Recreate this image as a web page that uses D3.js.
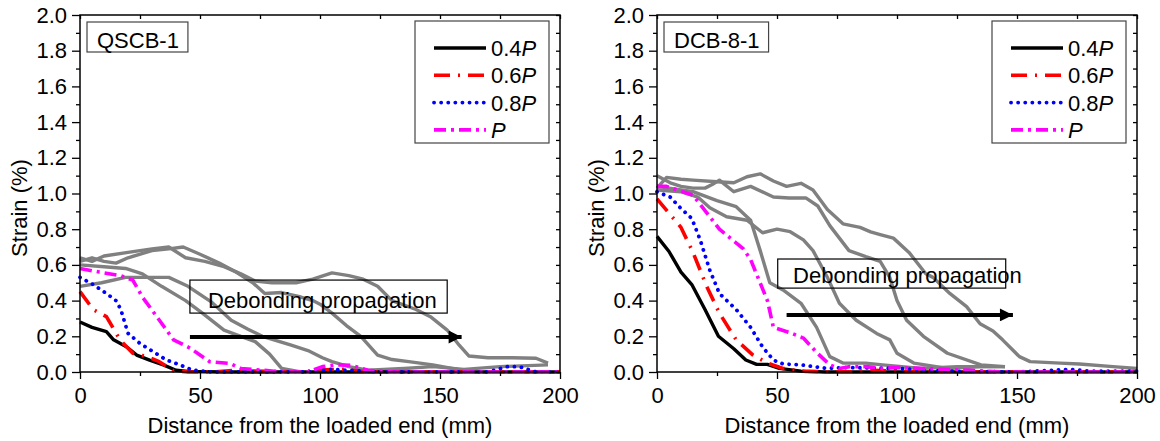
<!DOCTYPE html>
<html>
<head>
<meta charset="utf-8">
<script src="https://cdn.jsdelivr.net/npm/d3@7"></script>
<style>
  body { margin: 0; background: #fff; }
  text { font-family: Arial, "Liberation Sans", sans-serif; font-size: 22px; fill: #000; }
</style>
</head>
<body>
<script>
// tick values
const distTicks = [0, 50, 100, 150, 200]
const distMinor = [25, 75, 125, 175]
const strainTicks = [0, 0.2, 0.4, 0.6, 0.8, 1.0, 1.2, 1.4, 1.6, 1.8, 2.0]
const strainMinor = [0.1, 0.3, 0.5, 0.7, 0.9, 1.1, 1.3, 1.5, 1.7, 1.9]
const loadLabels = ['0.4', '0.6', '0.8', '']

// QSCB-1, [distance mm, strain %]
const qscb04 = [[0,0.28],[5,0.25],[11,0.226],[14,0.18],[19.5,0.14],[23.6,0.095],[29,0.067],[34.7,0.04],[40,0.01],[45,0.003],[60,0],[120,0],[200,0]]
const qscb06 = [[0,0.45],[5.5,0.35],[11,0.31],[16.7,0.18],[22,0.105],[28,0.086],[33,0.058],[39,0.007],[45,0],[55,0],[65,0.01],[72,0.005],[90,0],[102,0.012],[110,0.015],[120,0],[200,0]]
const qscb08 = [[0,0.53],[5.5,0.49],[11,0.44],[15,0.40],[17,0.35],[20,0.217],[25,0.16],[30.5,0.114],[36,0.067],[41.7,0.04],[47,0.01],[55,0],[95,0],[104,0.015],[112,0.01],[125,0],[170,0],[178,0.03],[183,0.03],[190,0],[200,0]]
const qscbP = [[0,0.58],[8,0.56],[16.7,0.54],[22,0.515],[26,0.42],[32,0.31],[39,0.18],[46,0.133],[50,0.095],[54,0.058],[62.5,0.048],[67,0.02],[78,0.008],[84,0],[95,0],[101,0.03],[107,0.04],[113,0.038],[120,0.01],[130,0],[200,0]]
const qscbGray1 = [[0,0.64],[5,0.62],[10,0.65],[20,0.67],[30,0.69],[37,0.70],[44,0.64],[52,0.62],[60,0.59],[67,0.55],[73,0.51],[80,0.50],[90,0.50],[97,0.52],[105,0.555],[112,0.54],[118,0.52],[124,0.48],[130,0.40],[140,0.35],[146,0.31],[153,0.235],[158,0.15],[162,0.09],[170,0.08],[180,0.08],[190,0.077],[195,0.05]]
const qscbGray2 = [[0,0.62],[5,0.64],[10,0.62],[15,0.61],[20,0.64],[30,0.68],[37,0.69],[43,0.70],[50,0.66],[58,0.61],[65,0.56],[72,0.50],[77,0.44],[84,0.445],[92,0.42],[97,0.40],[100,0.38],[105,0.33],[111,0.26],[117,0.20],[124,0.095],[130,0.07],[137,0.058],[147,0.04],[155,0.02],[161,0.005]]
const qscbGray3 = [[0,0.60],[10,0.59],[19,0.58],[26,0.55],[34,0.48],[44,0.40],[51,0.33],[60,0.235],[67,0.20],[73,0.17],[79,0.10],[84,0.02],[92,0]]
const qscbGray4 = [[0,0.48],[9,0.50],[19,0.53],[28,0.53],[37,0.53],[45,0.48],[55,0.39],[63,0.29],[70,0.24],[76,0.20],[88,0.15],[95,0.12],[101,0.08],[105,0.058],[112,0.03],[120,0.01],[135,0.02],[147,0.03],[160,0.015],[175,0.03],[195,0.04]]

// DCB-8-1
const dcb04 = [[0,0.76],[5,0.675],[10,0.56],[14.5,0.49],[20,0.35],[25.6,0.20],[32,0.13],[37,0.067],[41.5,0.043],[46,0.043],[51,0.02],[60,0.005],[70,0],[200,0]]
const dcb06 = [[0,0.97],[5,0.89],[10,0.81],[15,0.67],[20.7,0.48],[26,0.33],[33,0.18],[40,0.095],[46,0.05],[52.5,0.02],[62,0.003],[80,0],[90,0.01],[100,0.005],[120,0],[200,0]]
const dcb08 = [[0,1.01],[5.5,0.98],[9.7,0.92],[14.5,0.86],[18,0.74],[22,0.57],[26,0.44],[33,0.35],[39,0.25],[44,0.14],[48.5,0.067],[52.5,0.045],[60,0.04],[71,0.02],[80,0.025],[100,0.02],[120,0.005],[150,0],[165,0.01],[172,0.015],[180,0.005],[200,0.005]]
const dcbP = [[0,1.04],[4,1.04],[15,0.99],[22,0.87],[26,0.80],[36,0.69],[39,0.63],[46,0.40],[48.5,0.25],[55.5,0.22],[61,0.19],[66.5,0.11],[72,0.04],[76,0.02],[80,0.03],[87,0.03],[94,0.02],[100,0.025],[120,0.015],[145,0],[200,0]]
const dcbGray1 = [[0,1.03],[4,1.09],[10,1.08],[15,1.075],[25,1.066],[32,1.06],[37.5,1.094],[43,1.11],[48.5,1.07],[54,1.04],[60,1.057],[65,1.02],[71,0.91],[77.5,0.83],[84.6,0.81],[89,0.785],[93,0.77],[98.5,0.75],[105,0.67],[112,0.55],[115,0.53],[122,0.44],[129,0.366],[134.6,0.27],[140,0.23],[144,0.18],[151,0.086],[155.5,0.058],[168,0.05],[176,0.045],[190,0.03],[200,0.02]]
const dcbGray2 = [[0,1.10],[5.5,1.06],[10,1.04],[15,1.03],[20,1.03],[23,1.05],[26,1.075],[32,1.01],[39,1.04],[48.5,0.98],[55,0.975],[62,0.975],[67,0.93],[72,0.82],[76,0.75],[80,0.68],[87,0.646],[93,0.62],[97,0.53],[100,0.40],[104,0.29],[111,0.20],[121,0.105],[135,0.04],[145,0.03]]
const dcbGray3 = [[0,1.04],[5,1.03],[15,1.01],[25,0.96],[33,0.926],[39,0.85],[43,0.68],[47,0.50],[52.5,0.46],[60,0.385],[66.5,0.25],[72,0.086],[77.5,0.05],[87,0.05],[94,0.04],[110,0.02],[125,0.03],[145,0.03]]
const dcbGray4 = [[0,1.02],[10,1.01],[17,0.98],[22,0.92],[29,0.87],[37.5,0.85],[44,0.78],[50,0.80],[55.5,0.786],[61,0.74],[65,0.68],[71,0.53],[76,0.385],[83,0.29],[91.5,0.216],[97,0.18],[100,0.105],[107,0.05],[121,0.02],[135,0.03],[145,0.03]]

const styles = [
  { color: '#000000', dash: null, width: 3.4, cap: 'butt' },
  { color: '#ff0000', dash: '16,8,2,8', width: 3.6, cap: 'butt' },
  { color: '#0000ff', dash: '0.1,7', width: 3.8, cap: 'round' },
  { color: '#ff00ff', dash: '12,5,3,5', width: 3.6, cap: 'butt' }
]

const panels = [
  {
    name: 'QSCB-1', left: 80, right: 560,
    series: [qscb04, qscb06, qscb08, qscbP],
    gray: [qscbGray4, qscbGray3, qscbGray2, qscbGray1],
    note: { x0: 45.8, x1: 153, y0: 0.33, y1: 0.515, tx: 53.3, ty: 0.36 },
    arrow: { x0: 45.8, x1: 159, y: 0.196 }
  },
  {
    name: 'DCB-8-1', left: 657, right: 1137,
    series: [dcb04, dcb06, dcb08, dcbP],
    gray: [dcbGray4, dcbGray3, dcbGray2, dcbGray1],
    note: { x0: 50.3, x1: 145.3, y0: 0.47, y1: 0.633, tx: 56.7, ty: 0.5 },
    arrow: { x0: 54, x1: 148.3, y: 0.32 }
  }
]

const plotTop = 15
const plotBottom = 372

const svg = d3.select('body').append('svg')
  .attr('width', 1160)
  .attr('height', 441)

svg.append('defs').append('marker')
  .attr('id', 'head')
  .attr('viewBox', '0 0 10 10')
  .attr('refX', 10)
  .attr('refY', 5)
  .attr('markerUnits', 'userSpaceOnUse')
  .attr('markerWidth', 18)
  .attr('markerHeight', 13)
  .attr('orient', 'auto')
  .append('path')
  .attr('d', 'M0,0 L10,5 L0,10 Z')
  .attr('fill', '#000')

panels.forEach(p => {
  const x = d3.scaleLinear().domain([0, 200]).range([p.left, p.right])
  const y = d3.scaleLinear().domain([0, 2]).range([plotBottom, plotTop])
  const g = svg.append('g')

  const line = d3.line().x(d => x(d[0])).y(d => y(d[1]))

  // gray curves
  g.selectAll('path.gray')
    .data(p.gray)
    .enter().append('path')
    .attr('class', 'gray')
    .attr('d', line)
    .attr('fill', 'none')
    .attr('stroke', '#808080')
    .attr('stroke-width', 3.4)
    .attr('stroke-linejoin', 'round')

  g.selectAll('path.load')
    .data(p.series)
    .enter().append('path')
    .attr('class', 'load')
    .attr('d', line)
    .attr('fill', 'none')
    .attr('stroke', (d, i) => styles[i].color)
    .attr('stroke-width', (d, i) => styles[i].width)
    .attr('stroke-dasharray', (d, i) => styles[i].dash)
    .attr('stroke-linecap', (d, i) => styles[i].cap)
    .attr('stroke-linejoin', 'round')

  // axes
  g.append('g').attr('transform', 'translate(' + p.left + ',0)')
    .call(d3.axisLeft(y).tickValues(strainTicks).tickFormat(d3.format('.1f')).tickSizeInner(8).tickSizeOuter(0).tickPadding(5))
  g.append('g').attr('transform', 'translate(' + p.left + ',0)')
    .call(d3.axisLeft(y).tickValues(strainMinor).tickFormat('').tickSizeInner(4).tickSizeOuter(0))
  g.append('g').attr('transform', 'translate(0,' + plotBottom + ')')
    .call(d3.axisBottom(x).tickValues(distTicks).tickSizeInner(7).tickSizeOuter(0).tickPadding(8))
  g.append('g').attr('transform', 'translate(0,' + plotBottom + ')')
    .call(d3.axisBottom(x).tickValues(distMinor).tickFormat('').tickSizeInner(4).tickSizeOuter(0))
  g.append('g').attr('transform', 'translate(0,' + plotTop + ')')
    .call(d3.axisTop(x).tickValues(distTicks.concat(distMinor)).tickFormat('').tickSizeInner(-4).tickSizeOuter(0))
  g.append('g').attr('transform', 'translate(' + p.right + ',0)')
    .call(d3.axisRight(y).tickValues(strainTicks.concat(strainMinor)).tickFormat('').tickSizeInner(-4).tickSizeOuter(0))

  g.selectAll('.domain').remove()
  g.selectAll('.tick line').attr('stroke', '#000').attr('stroke-width', 1.3)
  g.selectAll('.tick text').attr('font-size', 22).attr('font-family', 'Arial, "Liberation Sans", sans-serif')

  g.append('rect')
    .attr('x', p.left).attr('y', plotTop)
    .attr('width', p.right - p.left).attr('height', plotBottom - plotTop)
    .attr('fill', 'none').attr('stroke', '#000').attr('stroke-width', 1.5)

  // axis titles
  g.append('text')
    .attr('transform', 'translate(' + (p.left - 53) + ',208) rotate(-90)')
    .attr('text-anchor', 'middle')
    .text('Strain (%)')
  g.append('text')
    .attr('x', (p.left + p.right) / 2).attr('y', 433)
    .attr('text-anchor', 'middle')
    .text('Distance from the loaded end (mm)')

  // specimen label
  const nameBox = g.append('rect')
    .attr('x', p.left + 7).attr('y', plotTop + 7)
    .attr('height', 30)
    .attr('fill', '#fff').attr('stroke', '#444').attr('stroke-width', 1.2)
  const nameText = g.append('text')
    .attr('x', p.left + 17).attr('y', plotTop + 33)
    .text(p.name)
  nameBox.attr('width', nameText.node().getComputedTextLength() + 19)

  // legend
  const lg = g.append('g').attr('transform', 'translate(' + (p.right - 145) + ',' + (plotTop + 6) + ')')
  lg.append('rect')
    .attr('width', 134).attr('height', 122)
    .attr('fill', '#fff').attr('stroke', '#444').attr('stroke-width', 1.2)
  const row = lg.selectAll('g.row')
    .data(loadLabels)
    .enter().append('g')
    .attr('class', 'row')
    .attr('transform', (d, i) => 'translate(0,' + (27 + i * 27.3) + ')')
  row.append('line')
    .attr('x1', 19).attr('x2', 71)
    .attr('stroke', (d, i) => styles[i].color)
    .attr('stroke-width', (d, i) => styles[i].width)
    .attr('stroke-dasharray', (d, i) => styles[i].dash)
    .attr('stroke-linecap', (d, i) => styles[i].cap)
  const lt = row.append('text').attr('x', 76).attr('y', 8)
  lt.append('tspan').text(d => d)
  lt.append('tspan').attr('font-style', 'italic').text('P')

  // annotation
  g.append('rect')
    .attr('x', x(p.note.x0)).attr('y', y(p.note.y1))
    .attr('width', x(p.note.x1) - x(p.note.x0)).attr('height', y(p.note.y0) - y(p.note.y1))
    .attr('fill', 'none').attr('stroke', '#000').attr('stroke-width', 1.2)
  g.append('text')
    .attr('x', x(p.note.tx)).attr('y', y(p.note.ty))
    .text('Debonding propagation')
  g.append('line')
    .attr('x1', x(p.arrow.x0)).attr('x2', x(p.arrow.x1))
    .attr('y1', y(p.arrow.y)).attr('y2', y(p.arrow.y))
    .attr('stroke', '#000').attr('stroke-width', 4)
    .attr('marker-end', 'url(#head)')
})
</script>
</body>
</html>
